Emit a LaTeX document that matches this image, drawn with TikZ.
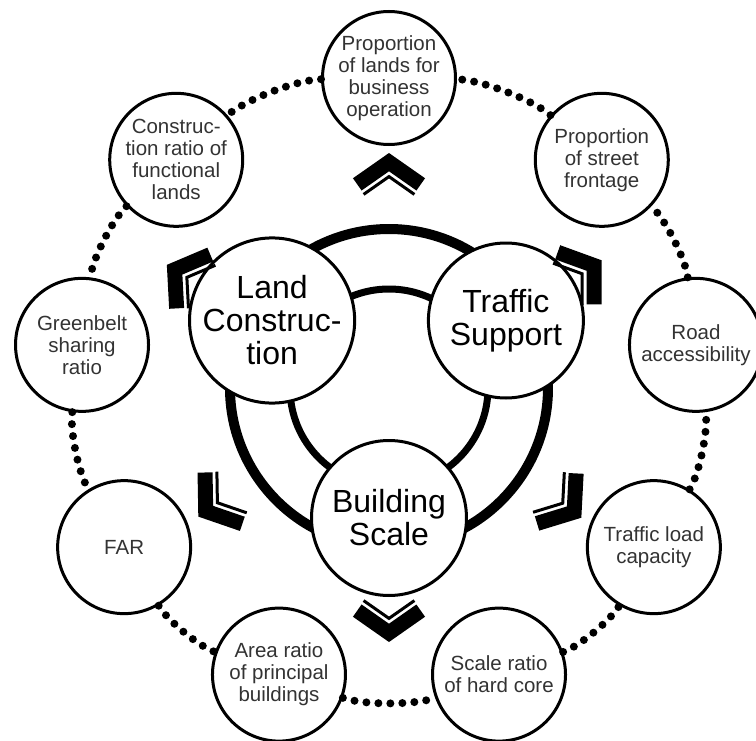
\documentclass[tikz,border=0pt]{standalone}
\usepackage{fontspec}
\setmainfont{Liberation Sans}

\begin{document}
\begin{tikzpicture}[x=1pt,y=1pt,
    indicator/.style={circle,draw,line width=3pt,fill=white,minimum size=133pt,inner sep=0pt,
      align=center,text=black!80,font=\fontsize{20.5}{22}\selectfont},
    dimension/.style={circle,draw,line width=3pt,fill=white,minimum size=155pt,inner sep=0pt,
      align=center,font=\fontsize{32}{33}\selectfont},
    dotline/.style={line width=8pt,line cap=round,dash pattern=on 0pt off 12pt},
    chevron/.pic={
      \fill (0,0)--(-35:44)--++(235:15)--(0,-18.3)--(-27.4,-37.5)--(215:44)--cycle;
      \draw[line width=3pt,line join=miter] (-25.4,-41.4)--(0,-23.6)--(25.4,-41.4);
    }]
    \useasboundingbox (-389,-352) rectangle (367,388);
    % rings behind the three dimensions
    \draw[line width=10pt] (0,0) circle [radius=159pt];
    \draw[line width=7pt] (0,0) circle [radius=99pt];
    \node[dimension] (land) at (150:135) {Land\\Construc-\\tion};
    \node[dimension] (traffic) at (30:135) {Traffic\\Support};
    \node[dimension] (building) at (270:130) {Building\\Scale};
    % chevrons pointing outwards
    \pic at (90:235) {chevron};
    \pic[rotate=58] at (151:254) {chevron};
    \pic[rotate=-55] at (31:248) {chevron};
    \pic[rotate=126] at (214:230) {chevron};
    \pic[rotate=232] at (326:232) {chevron};
    \pic[rotate=180] at (270:254) {chevron};
    % indicators
    \node[indicator] (business) at (90:310) {Proportion\\of lands for\\business\\operation};
    \node[indicator] (functional) at (133:312) {Construc-\\tion ratio of\\functional\\lands};
    \node[indicator] (greenbelt) at (172:310) {Greenbelt\\sharing\\ratio};
    \node[indicator] (far) at (211:309) {FAR};
    \node[indicator] (principal) at (249:307) {Area ratio\\of principal\\buildings};
    \node[indicator] (hardcore) at (291:307) {Scale ratio\\of hard core};
    \node[indicator] (load) at (329:309) {Traffic load\\capacity};
    \node[indicator] (road) at (8:310) {Road\\accessibility};
    \node[indicator] (frontage) at (47:312) {Proportion\\of street\\frontage};
    % dotted ring
    \draw[dotline] (business) to[bend right=20,looseness=0.6] (functional);
    \draw[dotline] (functional) to[bend right=20,looseness=0.6] (greenbelt);
    \draw[dotline] (greenbelt) to[bend right=20,looseness=0.6] (far);
    \draw[dotline] (far) to[bend right=20,looseness=0.6] (principal);
    \draw[dotline] (principal) to[bend right=20,looseness=0.6] (hardcore);
    \draw[dotline] (hardcore) to[bend right=20,looseness=0.6] (load);
    \draw[dotline] (load) to[bend right=20,looseness=0.6] (road);
    \draw[dotline] (road) to[bend right=20,looseness=0.6] (frontage);
    \draw[dotline] (frontage) to[bend right=20,looseness=0.6] (business);
\end{tikzpicture}
\end{document}
